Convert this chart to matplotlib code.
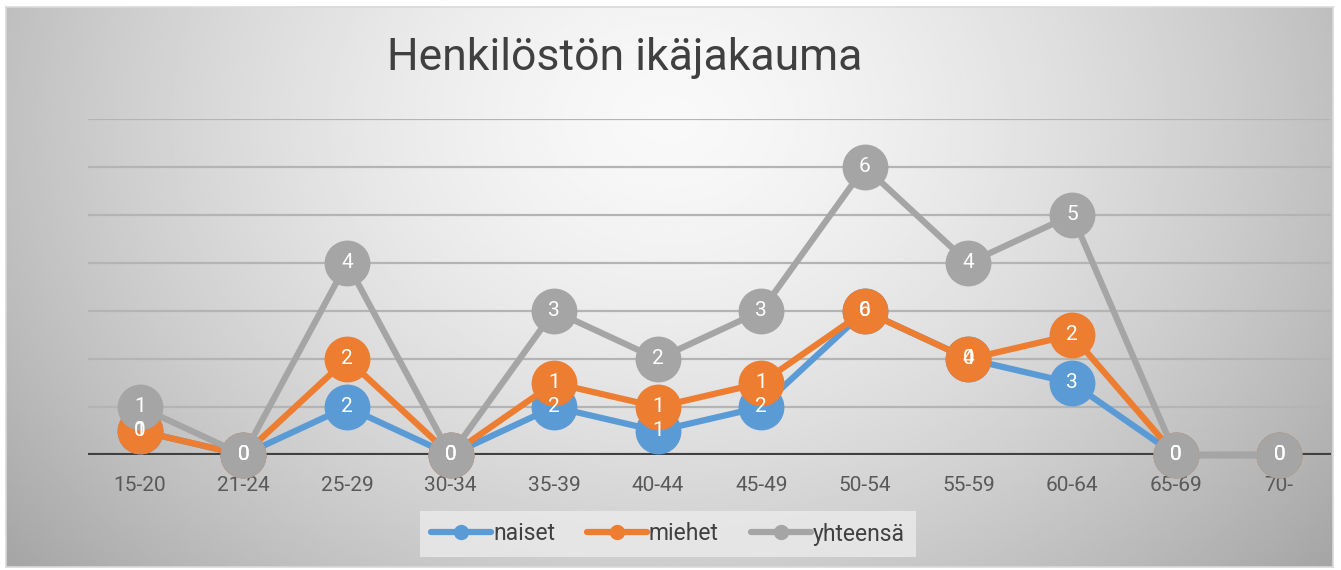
import numpy as np
import matplotlib
matplotlib.use('Agg')
from matplotlib import pyplot as plt

plt.rcParams['font.family'] = ['Roboto', 'DejaVu Sans']

# ------------ data (Excel stacked line chart)
ages = ['15-20', '21-24', '25-29', '30-34', '35-39', '40-44',
        '45-49', '50-54', '55-59', '60-64', '65-69', '70-']
naiset = [1, 0, 2, 0, 2, 1, 2, 6, 4, 3, 0, 0]
miehet = [0, 0, 2, 0, 1, 1, 1, 0, 0, 2, 0, 0]
yhteensa = [1, 0, 4, 0, 3, 2, 3, 6, 4, 5, 0, 0]

series = [('naiset', naiset, '#5B9BD5'),
          ('miehet', miehet, '#ED7D31'),
          ('yhteensä', yhteensa, '#A5A5A5')]

W, H = 1341, 570
fig = plt.figure(figsize=(W/100, H/100), dpi=100, facecolor='white')

# ------------ gradient background of the chart area
bg = fig.add_axes([6/W, 1-567/H, 1327/W, 560/H], zorder=-10)
gx, gy = np.meshgrid(np.linspace(0, 1, 400), np.linspace(0, 1, 200))
r = np.sqrt(((gx-0.5)/0.5)**2 + ((gy-0.2)/0.95)**2)
val = 0.975 - 0.22*np.clip(r, 0, 1.3)**1.5
bg.imshow(val, cmap='gray', vmin=0, vmax=1, aspect='auto',
          extent=[0, 1, 0, 1], origin='upper', interpolation='bilinear')
bg.set_xlim(0, 1)
bg.set_ylim(0, 1)
bg.set_xticks([])
bg.set_yticks([])
for s in bg.spines.values():
    s.set_color('#d9d9d9')
    s.set_linewidth(1.2)

# ------------ main plot
ax = fig.add_axes([88/W, 1-455/H, 1243/W, 336/H])
ax.patch.set_alpha(0)
x = np.arange(len(ages))
ax.set_xlim(-0.5, len(ages)-0.5)
ax.set_ylim(0, 14)
for gv in range(2, 15, 2):
    ax.axhline(gv, color='#b4b4b4', lw=1.6, zorder=1)
ax.axhline(0, color='#404040', lw=3, zorder=2)

base = np.zeros(len(ages))
for k, (name, vals, col) in enumerate(series):
    cum = base + np.array(vals)
    ax.plot(x, cum, color=col, lw=4.5, marker='o', ms=32, mec=col,
            solid_capstyle='round', label=name, clip_on=False, zorder=3+k)
    for xi, yi, v in zip(x, cum, vals):
        ax.text(xi, yi, str(v), color='white', fontsize=15, ha='center',
                va='center', zorder=10, clip_on=False)
    base = cum

for s in ax.spines.values():
    s.set_visible(False)
ax.set_yticks([])
ax.set_xticks(x)
ax.set_xticklabels(ages, fontsize=15, color='#595959')
ax.tick_params(axis='x', length=0, pad=15)

# ------------ title
fig.text(625/W, 1-70/H, 'Henkilöstön ikäjakauma', fontsize=32, color='#404040',
         ha='center', va='baseline')

# ------------ legend
handles = [plt.Line2D([], [], color=c, lw=4.5, marker='o', ms=10,
                      solid_capstyle='round') for _, _, c in series]
leg = fig.legend(handles, [n for n, _, _ in series], loc='center',
                 bbox_to_anchor=(668/W, 1-534/H), ncol=3, fontsize=16.5,
                 frameon=True, facecolor='#ebebeb', edgecolor='none',
                 framealpha=0.8, fancybox=False, handlelength=2.6,
                 handletextpad=0.1, columnspacing=1.4, borderpad=0.5)
for t in leg.get_texts():
    t.set_color('#404040')

plt.savefig('out.png', dpi=100, facecolor='white')
